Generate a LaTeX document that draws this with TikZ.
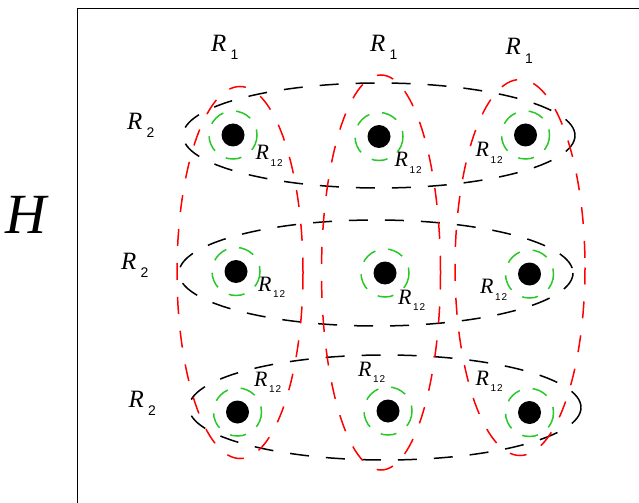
\documentclass[tikz,border=0pt]{standalone}
\usepackage{fontspec}
\setmainfont{Liberation Serif}
\setsansfont{Liberation Sans}
\newcommand{\RBig}[1]{{\fontsize{25}{25}\selectfont\itshape R}\hspace{4.5bp}\raisebox{-8.5bp}{\sffamily\fontsize{14}{14}\selectfont #1}}
\newcommand{\RSmall}[2]{{\fontsize{22}{22}\selectfont\itshape R}\hspace{1.8bp}\raisebox{-6.8bp}{\sffamily\fontsize{10}{10}\selectfont #1\hspace{1bp}#2}}
\definecolor{ringgreen}{RGB}{40,200,40}
\begin{document}
\begin{tikzpicture}[x=1bp,y=-1bp,
  dotnode/.style={circle,fill=black,draw=none,minimum size=23bp,inner sep=0},
  ring/.style={draw=ringgreen,line width=1.5bp,dash pattern=on 16bp off 13bp},
  rowell/.style={draw=black,line width=1.5bp,dash pattern=on 19bp off 17bp},
  colell/.style={draw=red,line width=1.5bp,dash pattern=on 17bp off 17bp},
  lab/.style={anchor=base west,inner sep=0,outer sep=0},
  frameline/.style={draw=black,line width=1.9bp}]
\useasboundingbox (0,0) rectangle (639,503);
\fill[white] (0,0) rectangle (639,503);
% frame
\coordinate (fb) at (77.5,503);
\coordinate (fc) at (77.5,8.5);
\coordinate (fr) at (639,8.5);
\draw[frameline] (fb) -- (fc) -- (fr);
\node[lab] (H) at (5,234) {\fontsize{57}{57}\selectfont\itshape H};
% dots
\node[dotnode] (d11) at (233,135) {};
\node[dotnode] (d12) at (379,136.5) {};
\node[dotnode] (d13) at (525.5,135) {};
\node[dotnode] (d21) at (236,271.5) {};
\node[dotnode] (d22) at (385,273) {};
\node[dotnode] (d23) at (529.5,274) {};
\node[dotnode] (d31) at (237.5,412) {};
\node[dotnode] (d32) at (388,411) {};
\node[dotnode] (d33) at (529.5,412.5) {};
% green rings
\foreach \d in {d11,d12,d13,d21,d22,d23,d31,d32,d33}
  \draw[ring] (\d.center) circle [radius=24];
% row ellipses
\draw[rowell] (379,135.5) ellipse [x radius=196, y radius=52.5];
\draw[rowell] (376,273) ellipse [x radius=197, y radius=53];
\draw[rowell] (385,407.5) ellipse [x radius=196, y radius=52.5];
% column ellipses
\draw[colell] (240,272.5) ellipse [x radius=63, y radius=186];
\draw[colell] (381,272.5) ellipse [x radius=59.5, y radius=197.5];
\draw[colell] (520,267.5) ellipse [x radius=65, y radius=188];
% R1 labels
\node[lab] (r1a) at (211,51.5) {\RBig{1}};
\node[lab] (r1b) at (370,51.5) {\RBig{1}};
\node[lab] (r1c) at (505.5,55) {\RBig{1}};
% R2 labels
\node[lab] (r2a) at (127,129.5) {\RBig{2}};
\node[lab] (r2b) at (121,269) {\RBig{2}};
\node[lab] (r2c) at (128.5,407) {\RBig{2}};
% R12 labels
\node[lab] (s11) at (255.5,159.5) {\RSmall{1}{2}};
\node[lab] (s12) at (394.5,166.5) {\RSmall{1}{2}};
\node[lab] (s13) at (475.5,157) {\RSmall{1}{2}};
\node[lab] (s21) at (258,291) {\RSmall{1}{2}};
\node[lab] (s22) at (398,304) {\RSmall{1}{2}};
\node[lab] (s23) at (480,293.5) {\RSmall{1}{2}};
\node[lab] (s31) at (254,386) {\RSmall{1}{2}};
\node[lab] (s32) at (358,376) {\RSmall{1}{2}};
\node[lab] (s33) at (475.5,385) {\RSmall{1}{2}};
\end{tikzpicture}
\end{document}
